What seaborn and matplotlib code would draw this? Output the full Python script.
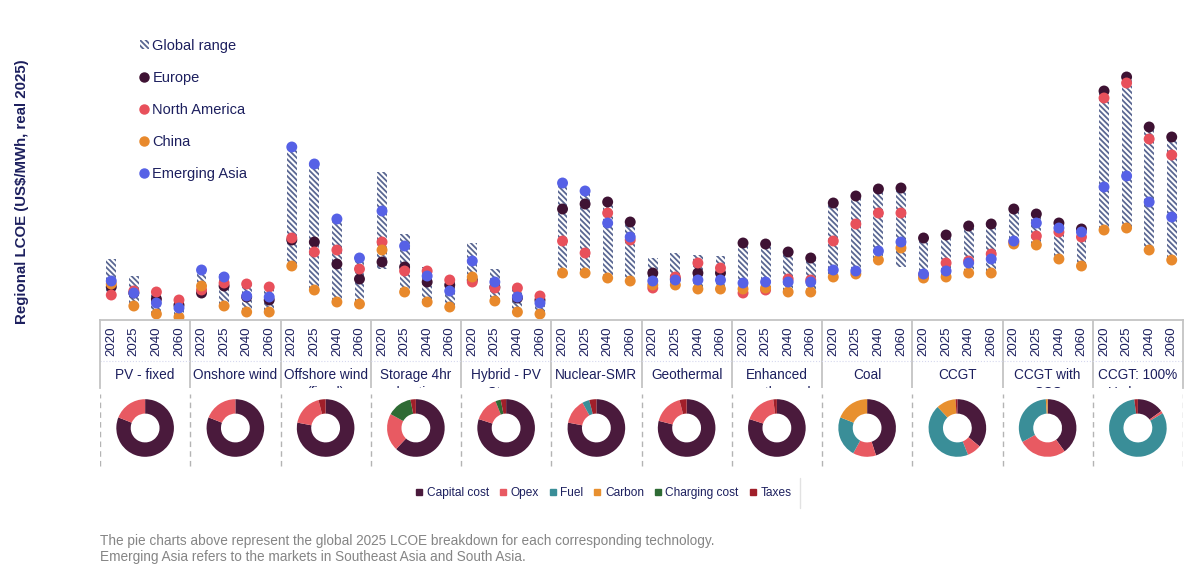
import pandas as pd
import seaborn as sns
import matplotlib.pyplot as plt
from matplotlib.patches import Patch
from matplotlib.lines import Line2D

sns.set_style('white')
plt.rcParams['font.family'] = ['Liberation Sans', 'DejaVu Sans']
plt.rcParams['hatch.linewidth'] = 1.3

# technologies (second line of the label is cut off in the original)
techs = ['PV - fixed', 'Onshore wind', 'Offshore wind\n(fixed)', 'Storage 4hr\nduration',
         'Hybrid - PV\n+ Storage', 'Nuclear-SMR', 'Geothermal', 'Enhanced\ngeothermal',
         'Coal', 'CCGT', 'CCGT with\nCCS', 'CCGT: 100%\nHydrogen']
years = ['2020', '2025', '2040', '2060']

# regional LCOE, US$/MWh (4 years per technology)
europe = [53, 47, 41, 35, 47, 54, 43, 40, 100, 98, 76, 61, 78, 73, 58, 55,
          60, 53, 42, 40, 131, 136, 138, 118, 67, 61, 67, 67, 97, 96, 88, 82,
          137, 144, 151, 152, 102, 105, 114, 116, 131, 126, 117, 111, 249, 263, 213, 203]
north_america = [45, 49, 48, 40, 50, 57, 56, 53, 102, 88, 90, 71, 98, 69, 69, 60,
                 58, 52, 52, 44, 99, 87, 127, 100, 52, 63, 77, 72, 47, 50, 61, 60,
                 99, 116, 127, 127, 65, 77, 79, 86, 98, 104, 108, 103, 242, 257, 201, 185]
china = [56, 34, 26, 23, 54, 34, 28, 28, 74, 50, 38, 36, 90, 48, 38, 33,
         63, 39, 28, 26, 67, 67, 62, 59, 55, 55, 51, 51, 51, 52, 48, 48,
         63, 66, 80, 92, 62, 63, 67, 67, 96, 95, 81, 74, 110, 112, 90, 80]
emerging_asia = [59, 47, 37, 32, 70, 63, 44, 43, 193, 176, 121, 82, 129, 94, 64, 49,
                 79, 58, 43, 37, 157, 149, 117, 103, 59, 60, 60, 60, 57, 58, 58, 58,
                 70, 69, 89, 98, 66, 69, 77, 81, 99, 117, 112, 108, 153, 164, 138, 123]
range_low = [44, 34, 26, 23, 47, 34, 28, 28, 74, 50, 38, 36, 71, 48, 38, 33,
             57, 39, 28, 26, 67, 67, 62, 59, 52, 55, 51, 51, 47, 50, 48, 48,
             63, 66, 80, 73, 62, 63, 67, 67, 96, 95, 81, 74, 110, 112, 90, 80]
range_high = [81, 64, 49, 42, 72, 66, 57, 54, 196, 176, 121, 82, 168, 106, 73, 62,
              97, 71, 54, 46, 157, 149, 138, 118, 82, 87, 85, 84, 97, 96, 88, 82,
              137, 144, 151, 152, 102, 105, 114, 116, 131, 126, 117, 111, 249, 263, 213, 203]

# global 2025 LCOE breakdown (shares) per technology
cost_parts = ['Capital cost', 'Opex', 'Fuel', 'Carbon', 'Charging cost', 'Taxes']
capital = [0.81, 0.81, 0.78, 0.62, 0.80, 0.78, 0.79, 0.80, 0.45, 0.36, 0.40, 0.15]
opex = [0.19, 0.19, 0.18, 0.21, 0.14, 0.14, 0.17, 0.18, 0.13, 0.08, 0.27, 0.015]
fuel = [0, 0, 0, 0, 0, 0.04, 0, 0, 0.23, 0.44, 0.32, 0.815]
carbon = [0, 0, 0, 0, 0, 0, 0, 0, 0.19, 0.11, 0.01, 0]
charging = [0, 0, 0, 0.14, 0.03, 0, 0, 0, 0, 0, 0, 0]
taxes = [0, 0, 0.04, 0.03, 0.03, 0.04, 0.04, 0.02, 0, 0.01, 0, 0.02]

navy = '#1c1f5e'
region_colors = {'Europe': '#3e1233', 'North America': '#e8505b',
                 'China': '#e8892c', 'Emerging Asia': '#5661e6'}
part_colors = ['#4a1a3c', '#e85a62', '#3a8e98', '#e8902f', '#2e6b34', '#a01f2a']
hatch_c = '#5a6792'

n = len(techs) * len(years)
pos = list(range(n))
df = pd.DataFrame({
    'pos': pos * 4,
    'value': europe + north_america + china + emerging_asia,
    'region': ['Europe'] * n + ['North America'] * n + ['China'] * n + ['Emerging Asia'] * n,
})

fig = plt.figure(figsize=(12, 5.66), dpi=100)
W, H = 1200, 566

# main dot / range chart
ax = fig.add_axes([100 / W, 246 / H, 1083 / W, 280 / H])
ax.bar(pos, [h - l for h, l in zip(range_high, range_low)], bottom=range_low, width=0.44,
       color='white', edgecolor=hatch_c, hatch='\\' * 6, linewidth=0, zorder=2)
sns.scatterplot(data=df, x='pos', y='value', hue='region', palette=region_colors,
                s=62, linewidth=0, legend=False, ax=ax, zorder=3)
ax.set_xlim(-0.5, n - 0.5)
ax.set_ylim(20, 300)
ax.axis('off')

legend_handles = [Patch(facecolor='white', edgecolor=hatch_c, hatch='\\' * 6, linewidth=0,
                        label='Global range')]
for name, c in region_colors.items():
    legend_handles.append(Line2D([], [], marker='o', ls='', color=c, markersize=6.5, label=name))
fig.legend(handles=legend_handles, loc='upper left', bbox_to_anchor=(140 / W, 1 - 39 / H),
           frameon=False, fontsize=10.5, labelspacing=1.24, handlelength=0.6, handleheight=0.6,
           handletextpad=0.25, borderpad=0, borderaxespad=0, labelcolor=navy)

fig.text(22 / W, 1 - 192 / H, 'Regional LCOE (US$/MWh, real 2025)', rotation=90,
         ha='center', va='center', fontsize=10.8, fontweight='bold', color=navy)

# category label box
lab = fig.add_axes([100 / W, (H - 388) / H, 1083 / W, 68 / H])
lab.set_xlim(-0.5, n - 0.5)
lab.set_ylim(0, 1)
lab.set_xticks([])
lab.set_yticks([])
for side in ['top', 'left', 'right']:
    lab.spines[side].set_color('#c4c4c4')
    lab.spines[side].set_linewidth(1.3)
lab.spines['bottom'].set_visible(False)
for g in range(1, len(techs)):
    lab.axvline(g * 4 - 0.5, color='#c4c4c4', lw=1.3)
lab.axhline(0.40, color='#d6d8ee', ls=':', lw=0.8)
for i in pos:
    lab.text(i, 0.69, years[i % 4], rotation=90, ha='center', va='center',
             fontsize=9.6, color=navy)
for g, t in enumerate(techs):
    lab.text(g * 4 + 1.5, 0.29, t, ha='center', va='top', fontsize=9.8, color=navy,
             linespacing=1.38, clip_on=True)

# pie row
pie_bg = fig.add_axes([100 / W, (H - 470) / H, 1083 / W, 80 / H])
pie_bg.set_xlim(-0.5, n - 0.5)
pie_bg.set_ylim(0, 1)
pie_bg.axis('off')
for g in range(len(techs) + 1):
    pie_bg.axvline(g * 4 - 0.5, ymin=0.05, ymax=0.95, color='#b4b4b4', ls=(0, (4, 3)), lw=1)

col_w = 1083 / n
for g in range(len(techs)):
    cx = 100 + (g * 4 + 2) * col_w
    cy = 428
    d = 72
    pax = fig.add_axes([(cx - d / 2) / W, (H - cy - d / 2) / H, d / W, d / H])
    shares = [capital[g], opex[g], fuel[g], carbon[g], charging[g], taxes[g]]
    keep = [(s, c) for s, c in zip(shares, part_colors) if s > 0]
    pax.pie([s for s, _ in keep], colors=[c for _, c in keep], startangle=90,
            counterclock=False, wedgeprops=dict(width=0.5, linewidth=0))
    pax.set_aspect('equal')

part_handles = [Line2D([], [], marker='s', ls='', color=c, markersize=4.2, label=p)
                for p, c in zip(cost_parts, part_colors)]
fig.legend(handles=part_handles, loc='center', bbox_to_anchor=(603 / W, 1 - 493 / H), ncol=6,
           frameon=False, fontsize=8.6, handlelength=0.7, handletextpad=0.3,
           columnspacing=0.8, labelcolor=navy)
fig.add_artist(Line2D([800 / W, 800 / W], [1 - 478 / H, 1 - 508 / H], color='#e2e2e2', lw=1))

fig.text(100 / W, 1 - 541 / H,
         'The pie charts above represent the global 2025 LCOE breakdown for each corresponding technology.',
         ha='left', va='center', fontsize=9.8, color='#858585')
fig.text(100 / W, 1 - 557 / H,
         'Emerging Asia refers to the markets in Southeast Asia and South Asia.',
         ha='left', va='center', fontsize=9.8, color='#858585')

fig.savefig('out.png', dpi=100)
